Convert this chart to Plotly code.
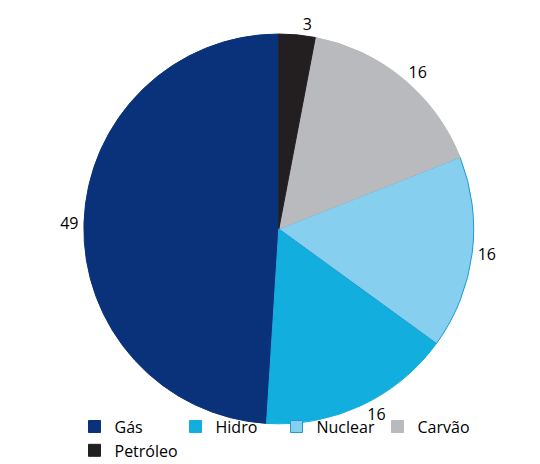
import plotly.graph_objects as go

labels = ["Gás", "Hidro", "Nuclear", "Carvão", "Petróleo"]
values = [49, 16, 16, 16, 3]
colors = ["#0a327a", "#12aedd", "#87cfee", "#b9babe", "#231f20"]
line_colors = ["#0a327a", "#12aedd", "#1e9ad4", "#b9babe", "#231f20"]

# counterclockwise from 12 o'clock: plotly ends the first slice at `rotation`
first_share = values[0] / sum(values)

fig = go.Figure(go.Pie(
    labels=labels,
    values=values,
    sort=False,
    direction="counterclockwise",
    rotation=-360 * first_share,
    marker=dict(colors=colors, line=dict(color=line_colors, width=1)),
    textinfo="value",
    textposition="outside",
    textfont=dict(size=16, color="#000000", family="Open Sans"),
    domain=dict(x=[0.018, 0.992], y=[0.11, 1.0]),
    hoverinfo="label+value",
))

fig.update_layout(
    width=540, height=464,
    margin=dict(l=0, r=0, t=0, b=0),
    paper_bgcolor="white",
    font=dict(family="Open Sans", size=16, color="#000000"),
    showlegend=True,
    legend=dict(orientation="h", x=0.5, xanchor="center", y=0.01, yanchor="bottom",
                bgcolor="rgba(0,0,0,0)", entrywidth=56, entrywidthmode="pixels",
                font=dict(size=16, color="#000000", family="Open Sans")),
)

fig.write_html("out.html")
